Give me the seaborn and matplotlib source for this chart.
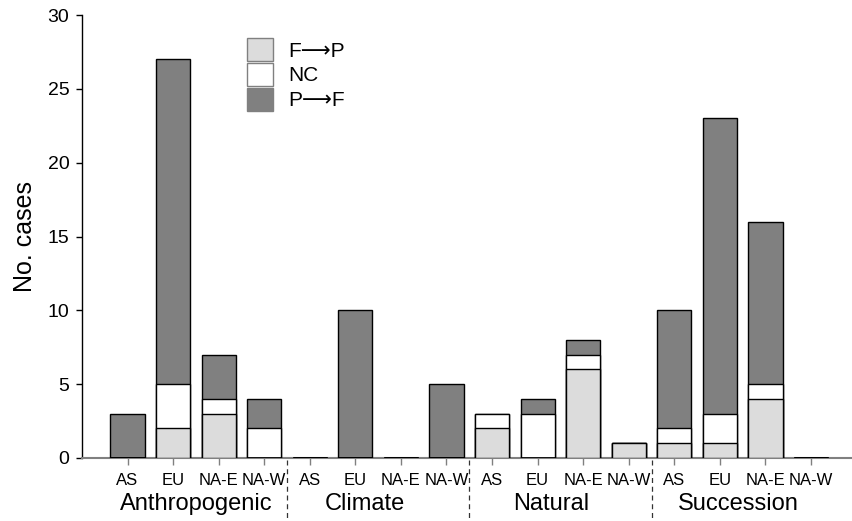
import numpy as np
import pandas as pd
import seaborn as sns
import matplotlib.pyplot as plt
from matplotlib.patches import Patch

sns.set_style("ticks")
plt.rcParams['font.family'] = ['Liberation Sans', 'DejaVu Sans']
plt.rcParams.update({"text.color": "black", "axes.labelcolor": "black",
                     "xtick.color": "black", "ytick.color": "black",
                     "axes.edgecolor": "black"})

# data
groups = ["Anthropogenic", "Climate", "Natural", "Succession"]
regions = ["AS", "EU", "NA-E", "NA-W"]
f_to_p = [0, 2, 3, 0,   0, 0, 0, 0,   2, 0, 6, 1,   1, 1, 4, 0]
no_change = [0, 3, 1, 2,   0, 0, 0, 0,   1, 3, 1, 0,   1, 2, 1, 0]
p_to_f = [3, 22, 3, 2,   0, 10, 0, 5,   0, 1, 1, 0,   8, 20, 11, 0]

keys = [f"{g}_{r}" for g in groups for r in regions]
df = pd.DataFrame({"key": keys,
                   "fp": f_to_p, "nc": no_change, "pf": p_to_f})
df["total"] = df["fp"] + df["nc"] + df["pf"]
df["fp_nc"] = df["fp"] + df["nc"]

c_fp, c_nc, c_pf = "#dcdcdc", "#ffffff", "#808080"

fig = plt.figure(figsize=(8.52, 5.21), dpi=100)
ax = fig.add_axes([0.0962, 0.121, 0.9038, 0.850])

# stacked bars by overlaying cumulative totals
for col, c in [("total", c_pf), ("fp_nc", c_nc), ("fp", c_fp)]:
    sns.barplot(data=df, x="key", y=col, order=keys, color=c, saturation=1,
                width=0.75, edgecolor="black", linewidth=1, errorbar=None,
                zorder=3, ax=ax)

# empty cells show as a heavier black stroke on the baseline
for p in ax.patches:
    if p.get_height() == 0:
        p.set_linewidth(2)

ax.set_xlim(-1, 15.9)
ax.set_ylim(0, 30)
ax.set_yticks(range(0, 31, 5))
ax.set_ylabel("No. cases", fontsize=18, labelpad=8)
ax.set_xlabel("")
ax.set_xticks(range(len(keys)))
ax.set_xticklabels(regions * len(groups), fontsize=12)
ax.tick_params(axis="y", labelsize=14, length=4, width=1, direction="out", pad=5)
ax.tick_params(axis="x", length=5, width=1, color="#808080", pad=6)

for s in ["top", "right"]:
    ax.spines[s].set_visible(False)
ax.spines["left"].set_linewidth(1)
ax.spines["bottom"].set_color("#808080")
ax.spines["bottom"].set_linewidth(1.5)

# group labels and dashed separators below the axis
trans = ax.get_xaxis_transform()
label_x = [1.5, 5.2, 9.3, 13.4]
for g, lx in zip(groups, label_x):
    ax.text(lx, -0.117, g, transform=trans, ha="center", va="baseline", fontsize=17)
for sep in [3.5, 7.5, 11.5]:
    ax.plot([sep, sep], [-0.005, -0.15], transform=trans, color="#333333",
            linestyle=(0, (4, 3)), linewidth=0.9, clip_on=False)

handles = [Patch(facecolor=c_fp, edgecolor="#808080", label="F\u27f6P"),
           Patch(facecolor=c_nc, edgecolor="#808080", label="NC"),
           Patch(facecolor=c_pf, edgecolor="#808080", label="P\u27f6F")]
ax.legend(handles=handles, loc="upper left", bbox_to_anchor=(0.19, 0.99),
          frameon=False, fontsize=15, handlelength=1.25, handleheight=1.3,
          labelspacing=0.1, handletextpad=0.75)

fig.savefig("out.png", dpi=100)
